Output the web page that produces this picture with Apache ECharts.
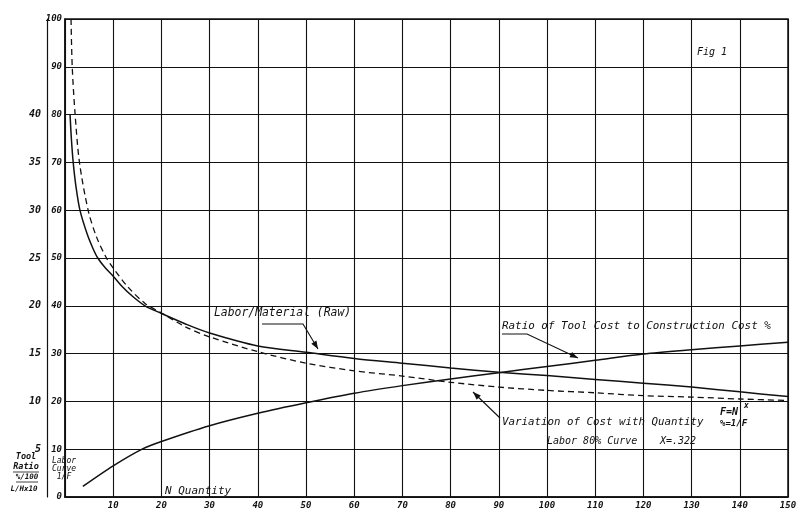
<!DOCTYPE html>
<html>
<head>
<meta charset="utf-8">
<script src="https://cdn.jsdelivr.net/npm/echarts@6/dist/echarts.min.js"></script>
<style>
html,body{margin:0;padding:0;background:#fff;}
#c{width:806px;height:521px;}
</style>
</head>
<body>
<div id="c"></div>
<script>
// ---- data ----
var laborN      = [1.05, 1.32, 1.7, 2.27, 3.1, 4.6, 5.8, 6.8, 8.3, 10, 11.9, 14, 16.6, 20, 25, 30, 40, 50, 60, 70, 80, 90, 100, 110, 120, 130, 140, 150];
var laborVals   = [80, 75, 70, 65, 60, 55, 52, 50, 48, 46.2, 44, 42, 40, 38.4, 36.2, 34.3, 31.6, 30.3, 29.0, 28.0, 27.0, 26.1, 25.4, 24.6, 23.8, 23.0, 22.0, 21.0];

var costN       = [1.25, 1.5, 2.1, 3.0, 4.8, 6.5, 8.6, 10, 13, 16.6, 20, 25, 30, 40, 50, 60, 70, 80, 90, 100, 110, 120, 130, 140, 150];
var costVals    = [100, 90, 80, 70, 60, 54.5, 50, 47.9, 44, 40.5, 38.5, 35.6, 33.5, 30.4, 28.0, 26.4, 25.3, 24.0, 23.0, 22.3, 21.8, 21.2, 20.9, 20.5, 20.2];

var toolN       = [3.7, 10, 16.0, 20, 30, 40, 50, 60, 70, 80, 90, 100, 110, 120, 130, 140, 150];
var toolVals    = [2.2, 6.5, 10, 11.6, 14.9, 17.5, 19.7, 21.7, 23.3, 24.7, 26.0, 27.3, 28.6, 29.9, 30.8, 31.6, 32.4];

var xTicks      = [10, 20, 30, 40, 50, 60, 70, 80, 90, 100, 110, 120, 130, 140, 150];
var innerTicks  = [0, 10, 20, 30, 40, 50, 60, 70, 80, 90, 100];
var outerTicks  = [5, 10, 15, 20, 25, 30, 35, 40];

function pairs(xs, ys){ return xs.map(function(x,i){ return [x, ys[i]]; }); }

var MONO = 'DejaVu Sans Mono';
var ink = '#111';

function arrowHead(x1,y1,x2,y2,len,w){
  var a = Math.atan2(y2-y1, x2-x1);
  var bx = x2 - len*Math.cos(a), by = y2 - len*Math.sin(a);
  var px = -Math.sin(a)*w, py = Math.cos(a)*w;
  return {type:'polygon', shape:{points:[[x2,y2],[bx+px,by+py],[bx-px,by-py]]}, style:{fill:ink}};
}
function seg(pts){ return {type:'polyline', shape:{points:pts}, style:{stroke:ink, lineWidth:1.1, fill:null}}; }
function txt(x,y,s,size,opts){
  opts = opts || {};
  return {type:'text', x:x, y:y, style:{text:s, fill:ink, font:(opts.weight||'normal')+' italic '+size+'px "'+(opts.family||MONO)+'"', textAlign:opts.align||'left', textVerticalAlign:'middle'}};
}

var graphics = [
  // outer axis caption
  txt(26,457,'Tool',8.5,{align:'center', weight:'bold'}),
  txt(26,467,'Ratio',8.5,{align:'center', weight:'bold'}),
  {type:'line', shape:{x1:13,y1:472,x2:39,y2:472}, style:{stroke:ink,lineWidth:0.8}},
  txt(27,477,'%/100',7.5,{align:'center', weight:'bold'}),
  {type:'line', shape:{x1:16,y1:482,x2:38,y2:482}, style:{stroke:ink,lineWidth:0.8}},
  txt(24,489,'L/Hx10',7.5,{align:'center', weight:'bold'}),
  // inner axis caption
  txt(64,461,'Labor',8,{align:'center'}),
  txt(64,469,'Curve',8,{align:'center'}),
  txt(64,477,'1/F',8,{align:'center'}),
  txt(697,52,'Fig 1',10),
  txt(165,491,'N Quantity',11),
  // Labor/Material annotation
  txt(214,313,'Labor/Material (Raw)',11.4),
  seg([[262,324],[303,324],[318,349]]),
  arrowHead(303,324,318,349,8,3),
  // Ratio annotation
  txt(502,326,'Ratio of Tool Cost to Construction Cost %',10.9),
  seg([[502,334],[527,334],[578,358]]),
  arrowHead(527,334,578,358,8,3),
  // Variation annotation
  txt(502,422,'Variation of Cost with Quantity',10.8),
  seg([[500,418],[473,392]]),
  arrowHead(500,418,473,392,8,3),
  txt(720,412,'F=N',10,{weight:'bold'}),
  txt(744,406,'x',8,{weight:'bold'}),
  txt(720,424,'%=1/F',9,{weight:'bold'}),
  txt(547,441,'Labor 80% Curve',10),
  txt(660,441,'X=.322',10)
];

var chart = echarts.init(document.getElementById('c'), null, {renderer:'canvas'});
chart.setOption({
  backgroundColor:'#ffffff',
  animation:false,
  grid:{left:65, top:19, right:18, bottom:24, show:false},
  xAxis:{
    type:'value', min:0, max:150, interval:10,
    axisLine:{show:true, lineStyle:{color:ink, width:1.5}},
    axisTick:{show:false},
    splitLine:{show:true, lineStyle:{color:ink, width:1.1}},
    axisLabel:{color:ink, fontSize:9, fontStyle:'italic', fontWeight:'bold', fontFamily:MONO, margin:4,
      formatter:function(v){ return xTicks.indexOf(v) >= 0 ? String(v) : ''; }}
  },
  yAxis:[{
    type:'value', min:0, max:100, interval:10, position:'left',
    axisLine:{show:true, lineStyle:{color:ink, width:1.5}},
    axisTick:{show:false},
    splitLine:{show:true, lineStyle:{color:ink, width:1.1}},
    axisLabel:{color:ink, fontSize:9, fontStyle:'italic', fontWeight:'bold', fontFamily:MONO, margin:3,
      formatter:function(v){ return innerTicks.indexOf(v) >= 0 ? String(v) : ''; }}
  },{
    type:'value', min:0, max:50, interval:5, position:'left', offset:18,
    axisLine:{show:true, lineStyle:{color:ink, width:1.2}},
    axisTick:{show:false},
    splitLine:{show:false},
    axisLabel:{color:ink, fontSize:10, fontStyle:'italic', fontWeight:'bold', fontFamily:MONO, margin:6,
      formatter:function(v){ return outerTicks.indexOf(v) >= 0 ? String(v) : ''; }}
  }],
  series:[
    {name:'Labor/Material (Raw)', type:'line', smooth:0.3, showSymbol:false, data:pairs(laborN, laborVals),
     lineStyle:{color:ink, width:1.5}},
    {name:'Variation of Cost with Quantity', type:'line', smooth:0.3, showSymbol:false, data:pairs(costN, costVals),
     lineStyle:{color:ink, width:1.3, type:[6,4]}},
    {name:'Ratio of Tool Cost', type:'line', smooth:0.3, showSymbol:false, data:pairs(toolN, toolVals),
     lineStyle:{color:ink, width:1.5}}
  ],
  graphic:graphics.concat([
    {type:'rect', shape:{x:65,y:19,width:723,height:478}, style:{stroke:ink, lineWidth:1.5, fill:null}, silent:true}
  ])
});
</script>
</body>
</html>
